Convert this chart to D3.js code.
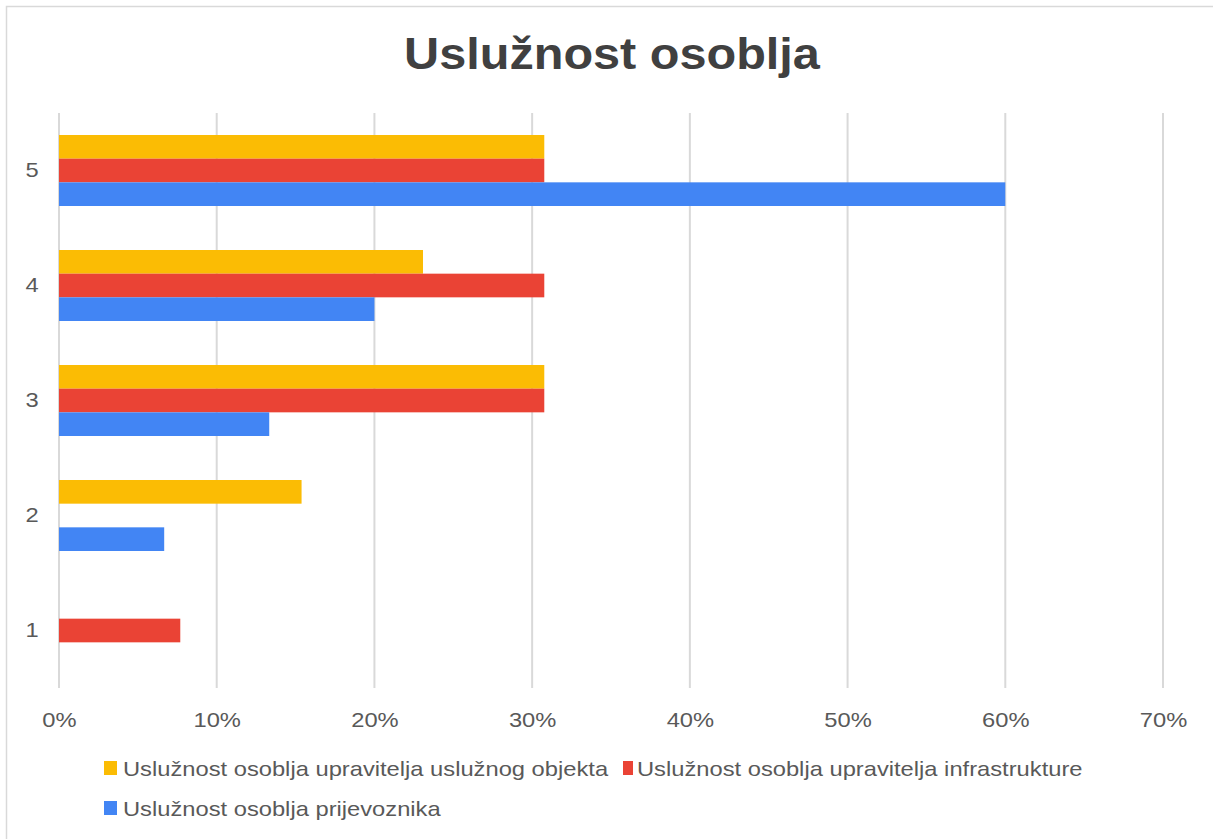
<!DOCTYPE html>
<html>
<head>
<meta charset="utf-8">
<script src="https://cdn.jsdelivr.net/npm/d3@7"></script>
<style>
  body { margin: 0; background: #fff; }
  text { font-family: "Liberation Sans", Arial, sans-serif; }
</style>
</head>
<body>
<div id="grafikon"></div>
<script>
// Podaci
const kategorije = ["5", "4", "3", "2", "1"];
const serije = [
  "Uslužnost osoblja upravitelja uslužnog objekta",
  "Uslužnost osoblja upravitelja infrastrukture",
  "Uslužnost osoblja prijevoznika"
];
const objekt = [0.3077, 0.2308, 0.3077, 0.1538, 0];
const infrastruktura = [0.3077, 0.3077, 0.3077, 0, 0.0769];
const prijevoznik = [0.60, 0.20, 0.1333, 0.0667, 0];
const xTicks = [0, 0.1, 0.2, 0.3, 0.4, 0.5, 0.6, 0.7];
const boje = ["#FBBC04", "#EA4335", "#4285F4"];

const W = 1213, H = 839;
const margin = { top: 113, right: 50, bottom: 151, left: 59 };
const width = 1163 - margin.left;
const height = 688 - margin.top;
const sirenje = 1.13; // tekst u originalu je malo razvučen vodoravno

const svg = d3.select("#grafikon").append("svg")
  .attr("width", W)
  .attr("height", H);

// okvir
svg.append("rect")
  .attr("x", 6.5).attr("y", 6.5)
  .attr("width", W + 20).attr("height", H + 20)
  .attr("fill", "#fff")
  .attr("stroke", "#d9d9d9")
  .attr("stroke-width", 1.5);

// naslov
svg.append("text")
  .attr("transform", "translate(612,69) scale(1.08,1)")
  .attr("text-anchor", "middle")
  .style("font-size", "45px")
  .style("font-weight", "bold")
  .attr("fill", "#404040")
  .text("Uslužnost osoblja");

const g = svg.append("g")
  .attr("transform", `translate(${margin.left},${margin.top})`);

const x = d3.scaleLinear().domain([0, 0.7]).range([0, width]);
const y = d3.scaleBand().domain(kategorije).range([0, height])
  .paddingInner(44 / 115).paddingOuter(22 / 115);
const ySer = d3.scaleBand().domain(d3.range(3)).range([0, y.bandwidth()]);

// mreža
g.selectAll(".grid").data(xTicks).enter().append("line")
  .attr("x1", d => x(d)).attr("x2", d => x(d))
  .attr("y1", 0).attr("y2", height)
  .attr("stroke", "#d9d9d9").attr("stroke-width", 2);

// x os
const xAxis = g.append("g")
  .attr("transform", `translate(0,${height})`)
  .call(d3.axisBottom(x).tickValues(xTicks).tickFormat(d3.format(".0%")).tickSize(0).tickPadding(24));
xAxis.select(".domain").remove();
xAxis.selectAll("text").style("font-size", "21px").attr("fill", "#595959")
  .style("font-family", "'Liberation Sans', Arial, sans-serif")
  .attr("transform", `scale(${sirenje},1)`);

// y os
const yAxis = g.append("g")
  .call(d3.axisLeft(y).tickSize(0).tickPadding(18));
yAxis.select(".domain").remove();
yAxis.selectAll("text").style("font-size", "21px").attr("fill", "#595959")
  .style("font-family", "'Liberation Sans', Arial, sans-serif")
  .attr("transform", `scale(${sirenje},1)`);

// stupci
const nizovi = [objekt, infrastruktura, prijevoznik];
nizovi.forEach((vrijednosti, i) => {
  g.selectAll(".bar" + i)
    .data(kategorije.map((k, j) => ({ k: k, v: vrijednosti[j] })).filter(d => d.v > 0))
    .enter().append("rect")
    .attr("class", "bar" + i)
    .attr("x", 0)
    .attr("y", d => y(d.k) + ySer(i))
    .attr("height", ySer.bandwidth())
    .attr("width", d => x(d.v))
    .attr("fill", boje[i]);
});

// legenda
const legenda = svg.append("g");
const pozicije = [[104, 768], [623, 768], [104, 808]];
serije.forEach((s, i) => {
  const item = legenda.append("g")
    .attr("transform", `translate(${pozicije[i][0]},${pozicije[i][1]})`);
  item.append("rect")
    .attr("x", 0).attr("y", -7)
    .attr("width", i === 1 ? 10 : 13).attr("height", 14)
    .attr("fill", boje[i]);
  item.append("text")
    .attr("transform", `translate(${i === 1 ? 14 : 19},8) scale(${sirenje},1)`)
    .style("font-size", "21px")
    .attr("fill", "#595959")
    .text(s);
});
</script>
</body>
</html>
